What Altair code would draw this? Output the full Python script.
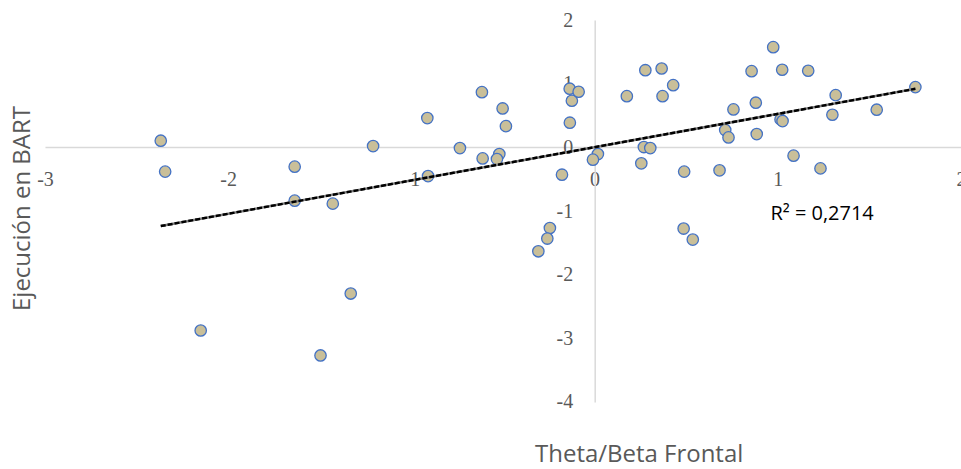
import altair as alt
import pandas as pd

# Theta/Beta Frontal (x) vs Ejecución en BART (y)
x_vals = [-2.368, -2.344, -1.637, -1.637, -1.429, -1.209, -0.913, -0.909, -0.735, -0.615,
          -0.611, -0.520, -0.533, -0.502, -0.484, -0.178, -0.135, -0.136, -0.124, -0.087,
          0.018, -0.009, 0.176, 0.277, 0.366, 0.371, 0.429, 0.269, 0.304, 0.255,
          0.489, -0.244, -0.258, -0.307, 0.486, 0.536, 0.975, 0.857, 1.024, 1.166,
          1.316, 1.751, 0.758, 0.880, 1.540, 1.298, 1.015, 1.026, 0.713, 0.731,
          0.885, 1.086, 1.233, 0.682, -1.331, -2.150, -1.496]
y_vals = [0.105, -0.381, -0.303, -0.837, -0.884, 0.020, 0.460, -0.451, -0.011, 0.868,
          -0.173, -0.105, -0.184, 0.612, 0.334, -0.429, 0.388, 0.922, 0.733, 0.874,
          -0.105, -0.193, 0.805, 1.213, 1.240, 0.805, 0.978, 0.005, -0.011, -0.251,
          -0.381, -1.267, -1.433, -1.633, -1.276, -1.449, 1.575, 1.198, 1.220, 1.204,
          0.821, 0.947, 0.597, 0.702, 0.592, 0.513, 0.440, 0.413, 0.272, 0.157,
          0.209, -0.130, -0.330, -0.361, -2.297, -2.878, -3.270]

x_ticks = [-3, -2, -1, 0, 1, 2]
y_ticks = [2, 1, 0, -1, -2, -3, -4]

r2_label = ["R² = 0,2714"]
r2_x = [0.96]
r2_y = [-1.05]

df = pd.DataFrame({"x": x_vals, "y": y_vals})
df_r2 = pd.DataFrame({"label": r2_label, "x": r2_x, "y": r2_y})

W = 916.5
H = 382
AXIS_GRAY = "#D9D9D9"
LABEL_GRAY = "#595959"

xscale = alt.Scale(domain=[-3, 2], nice=False, zero=False)
yscale = alt.Scale(domain=[-4, 2], nice=False, zero=False)

x_axis = alt.Axis(
    values=x_ticks, offset=-255, domainColor=AXIS_GRAY, domainWidth=1.5,
    ticks=False, grid=False, labelFont="Liberation Serif", labelFontSize=20,
    labelColor=LABEL_GRAY, labelPadding=22, labelFlush=False, labelOverlap=False,
    labelExpr="datum.value + ''",
    title="Theta/Beta Frontal", titleFont="Open Sans", titleFontSize=24,
    titleFontWeight="normal", titleColor=LABEL_GRAY, titleX=594, titleY=308,
    titleBaseline="middle", titleAlign="center",
)
y_axis = alt.Axis(
    values=y_ticks, offset=-550, domainColor=AXIS_GRAY, domainWidth=1.5,
    ticks=False, grid=False, labelFont="Liberation Serif", labelFontSize=20,
    labelColor=LABEL_GRAY, labelPadding=22, labelFlush=False, labelOverlap=False,
    labelExpr="datum.value + ''",
    title="Ejecución en BART", titleFont="Open Sans", titleFontSize=24,
    titleFontWeight="normal", titleColor=LABEL_GRAY, titleX=-572, titleY=188,
    titleAngle=-90, titleBaseline="middle", titleAlign="center",
)

base = alt.Chart(df)

points = base.mark_circle(
    size=130, color="#C9BF99", opacity=1, stroke="#4472C4", strokeWidth=1.3
).encode(
    x=alt.X("x:Q", scale=xscale, axis=x_axis),
    y=alt.Y("y:Q", scale=yscale, axis=y_axis),
)

trend_gray = base.transform_regression("x", "y").mark_line(
    color="#808080", strokeWidth=2.5
).encode(x=alt.X("x:Q", scale=xscale), y=alt.Y("y:Q", scale=yscale))

trend_black = base.transform_regression("x", "y").mark_line(
    color="#000000", strokeWidth=2.5, strokeDash=[5, 2]
).encode(x=alt.X("x:Q", scale=xscale), y=alt.Y("y:Q", scale=yscale))

r2_text = alt.Chart(df_r2).mark_text(
    align="left", baseline="middle", font="Open Sans", fontSize=20, color="#000000"
).encode(
    x=alt.X("x:Q", scale=xscale), y=alt.Y("y:Q", scale=yscale), text="label:N"
)

chart = alt.layer(points, trend_gray, trend_black, r2_text).properties(
    width=W, height=H,
    autosize=alt.AutoSizeParams(type="none"),
    padding={"left": 45, "top": 20, "right": 0, "bottom": 67},
).configure_view(stroke=None)

chart.save("out.html", embed_options={"renderer": "svg", "actions": False})
